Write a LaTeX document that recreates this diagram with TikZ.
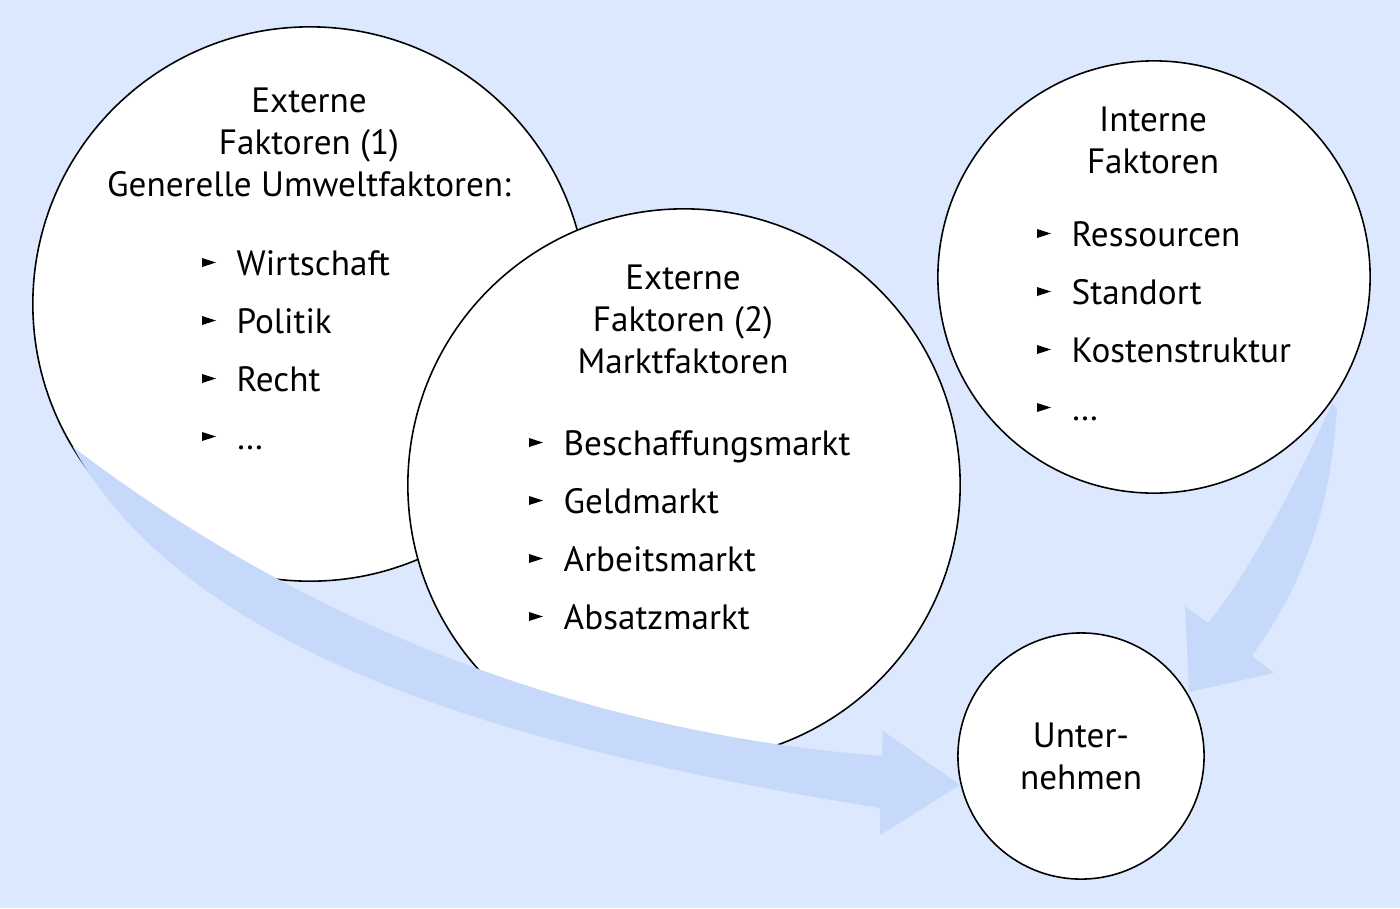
\documentclass[tikz,border=0pt]{standalone}
\usepackage{fontspec}
\setmainfont{PT Sans}
\usetikzlibrary{calc}
\definecolor{bgblue}{HTML}{DCE8FD}
\definecolor{flowblue}{HTML}{C7D9FB}

\tikzset{
  ball/.style={circle, draw=black, line width=0.45pt, fill=white, inner sep=0pt},
  head/.style={align=center, inner sep=0pt, font=\fontsize{10}{11.95}\selectfont},
  entry/.style={anchor=base west, inner sep=0pt, font=\fontsize{10}{11.95}\selectfont},
  flow/.style={fill=flowblue},
}

\begin{document}
\begin{tikzpicture}[x=0.01cm, y=-0.01cm]
  \fill[bgblue] (0,0) rectangle (1400,908);

  % circles
  \node[ball, minimum size=5.54cm] (general) at (310,304) {};
  \node[ball, minimum size=5.52cm] (market) at (684,485) {};
  \node[ball, minimum size=4.32cm] (internal) at (1154,277) {};
  \node[ball, head, minimum size=2.46cm] (firm) at (1081,756) {Unter-\\nehmen};

  % titles
  \node[head] (generaltitle) at (309,142) {Externe\\Faktoren (1)\\Generelle Umweltfaktoren:};
  \node[head] (markettitle) at (683,319) {Externe\\Faktoren (2)\\Marktfaktoren};
  \node[head] (internaltitle) at (1153,140) {Interne\\Faktoren};

  % lists
  \foreach \txt [count=\i from 0] in {Wirtschaft,Politik,Recht,…}{
    \node[entry] (gen\i) at (236,{275+58*\i}) {\txt};
    \fill ($(gen\i.base west)+(-34,-8)$) -- ++(14,-4.5) -- ++(-14,-4.5) -- cycle;
  }
  \foreach \txt [count=\i from 0] in {Beschaffungsmarkt,Geldmarkt,Arbeitsmarkt,Absatzmarkt}{
    \node[entry] (mkt\i) at (563,{455+58*\i}) {\txt};
    \fill ($(mkt\i.base west)+(-34,-8)$) -- ++(14,-4.5) -- ++(-14,-4.5) -- cycle;
  }
  \foreach \txt [count=\i from 0] in {Ressourcen,Standort,Kostenstruktur,…}{
    \node[entry] (int\i) at (1071,{246+58*\i}) {\txt};
    \fill ($(int\i.base west)+(-34,-8)$) -- ++(14,-4.5) -- ++(-14,-4.5) -- cycle;
  }

  % arrows
  \fill[flow] (73,447) .. controls (323,637) and (602,734) .. (882,756)
    -- (883,731) -- (960,785) -- (880,835) -- (880,808)
    .. controls (480,744) and (183,645) .. (73,447) -- cycle;
  \fill[flow] (1332,403) .. controls (1297,483) and (1246,577) .. (1208,623)
    -- (1185,606) -- (1189,692) -- (1274,673) -- (1252,656)
    .. controls (1304,583) and (1331,508) .. (1337,408) -- cycle;
\end{tikzpicture}
\end{document}
